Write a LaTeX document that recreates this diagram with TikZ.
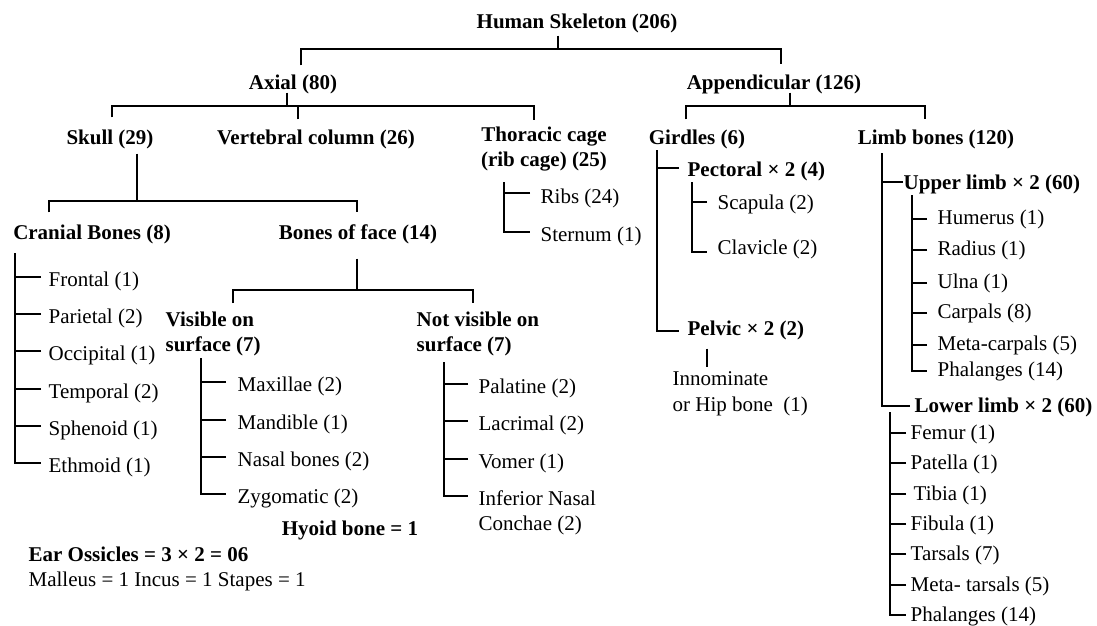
\documentclass[tikz,border=0pt]{standalone}
\usepackage{fontspec}
\setmainfont{Liberation Serif}
\begin{document}
\begin{tikzpicture}[x=1pt,y=-1pt,line width=1.3pt,
  bx/.style={font=\bfseries\fontsize{21}{25.5}\selectfont, inner sep=0pt, text height=14pt, text depth=0pt},
  bxl/.style={bx, anchor=west},
  bx2/.style={font=\bfseries\fontsize{21}{25.5}\selectfont, inner sep=0pt, align=left},
  it/.style={font=\fontsize{21}{25.5}\selectfont, inner sep=0pt, text height=14pt, text depth=0pt, anchor=west},
  it2/.style={font=\fontsize{21}{25.5}\selectfont, inner sep=0pt, align=left}]
\fill[white] (0,0) rectangle (1097,626);
\useasboundingbox (0,0) rectangle (1097,626);

% ---------- headings ----------
\node[bx] (title) at (577,22) {Human Skeleton (206)};
\node[bx] (axial) at (293,82) {Axial (80)};
\node[bx] (app) at (774,82) {Appendicular (126)};
\node[bx] (skull) at (110,137) {Skull (29)};
\node[bx] (vert) at (316,137) {Vertebral column (26)};
\node[bx2, align=center, anchor=north] (thor) at (544,126) {Thoracic cage\\(rib cage) (25)};
\node[bx] (gird) at (697,137) {Girdles (6)};
\node[bx] (limb) at (936,137) {Limb bones (120)};
\node[bx] (cran) at (92,232) {Cranial Bones (8)};
\node[bx] (face) at (358,232) {Bones of face (14)};
\node[bx2, anchor=north west] (vis) at (165,311) {Visible on\\surface (7)};
\node[bx2, anchor=north west] (notvis) at (416,311) {Not visible on\\surface (7)};
\node[bxl] (pect) at (687,169) {Pectoral × 2 (4)};
\node[bxl] (pelv) at (687,328) {Pelvic × 2 (2)};
\node[bxl] (upper) at (903,182) {Upper limb × 2 (60)};
\node[bxl] (lower) at (914,405) {Lower limb × 2 (60)};
\node[bx] (hyoid) at (350,528) {Hyoid bone = 1};
\node[bxl] (ear) at (28,554) {Ear Ossicles = 3 × 2 = 06};
\node[it] (mall) at (28,579) {Malleus = 1 Incus = 1 Stapes = 1};
\node[it2, anchor=north west] (innom) at (672,371) {Innominate\\or Hip bone\ \ (1)};

% ---------- list items ----------
\node[it] (frontal) at (48,279) {Frontal (1)};
\node[it] (parietal) at (48,316) {Parietal (2)};
\node[it] (occipital) at (48,353) {Occipital (1)};
\node[it] (temporal) at (48,391) {Temporal (2)};
\node[it] (sphenoid) at (48,428) {Sphenoid (1)};
\node[it] (ethmoid) at (48,465) {Ethmoid (1)};

\node[it] (maxillae) at (237,384) {Maxillae (2)};
\node[it] (mandible) at (237,422) {Mandible (1)};
\node[it] (nasal) at (237,459) {Nasal bones (2)};
\node[it] (zygo) at (237,496) {Zygomatic (2)};

\node[it] (palatine) at (478,386) {Palatine (2)};
\node[it] (lacrimal) at (478,423) {Lacrimal (2)};
\node[it] (vomer) at (478,461) {Vomer (1)};
\node[it] (inferior) at (478,498) {Inferior Nasal};
\node[it] (conchae) at (478,523) {Conchae (2)};

\node[it] (ribs) at (540,196) {Ribs (24)};
\node[it] (sternum) at (540,234) {Sternum (1)};

\node[it] (scapula) at (717,202) {Scapula (2)};
\node[it] (clavicle) at (717,247) {Clavicle (2)};

\node[it] (humerus) at (937,217) {Humerus (1)};
\node[it] (radius) at (937,248) {Radius (1)};
\node[it] (ulna) at (937,281) {Ulna (1)};
\node[it] (carpals) at (937,311) {Carpals (8)};
\node[it] (metacarpals) at (937,343) {Meta-carpals (5)};
\node[it] (phal1) at (937,369) {Phalanges (14)};

\node[it] (femur) at (910,432) {Femur (1)};
\node[it] (patella) at (910,462) {Patella (1)};
\node[it] (tibia) at (913,493) {Tibia (1)};
\node[it] (fibula) at (910,523) {Fibula (1)};
\node[it] (tarsals) at (910,553) {Tarsals (7)};
\node[it] (metatarsals) at (910,584) {Meta- tarsals (5)};
\node[it] (phal2) at (910,614) {Phalanges (14)};

% ---------- brackets ----------
\coordinate (b0) at (558,49);
\draw ([xshift=-19pt,yshift=-6pt]title.south) -- (b0);
\draw ([xshift=8pt,yshift=9pt]axial.north) |- (b0) -| ([xshift=7pt,yshift=10pt]app.north);

\coordinate (b1) at (287,106);
\draw ([xshift=-6pt,yshift=-3pt]axial.south) -- (b1);
\draw ([xshift=2pt,yshift=12pt]skull.north) |- (b1) -| ([xshift=-10pt,yshift=6pt]thor.north);
\draw ([xshift=-18pt,yshift=10pt]vert.north) -- ++(0,-14);

\coordinate (b2) at (790,106);
\draw ([xshift=16pt,yshift=-3pt]app.south) -- (b2);
\draw ([xshift=-11pt,yshift=10pt]gird.north) |- (b2) -| ([xshift=-11pt,yshift=10pt]limb.north);

\coordinate (b3) at (137,201);
\draw ([xshift=27pt,yshift=-9pt]skull.south) -- (b3);
\draw ([xshift=-43pt,yshift=12pt]cran.north) |- (b3) -| ([xshift=-1pt,yshift=12pt]face.north);

\coordinate (b4) at (357,290);
\draw ([xshift=-1pt,yshift=-19pt]face.south) -- (b4);
\draw ([xshift=68pt,yshift=8pt]vis.north west) |- (b4) -| ([xshift=57pt,yshift=8pt]notvis.north west);

% ---------- lists ----------
% cranial
\coordinate (c0) at (15,253);
\draw (c0) |- ([xshift=-7pt,yshift=2pt]ethmoid.west);
\foreach \n in {frontal,parietal,occipital,temporal,sphenoid}
  \draw ([xshift=-7pt,yshift=2pt]\n.west) -- ++(-26,0);

% visible
\coordinate (c1) at (201,358);
\draw (c1) |- ([xshift=-11pt,yshift=2pt]zygo.west);
\foreach \n in {maxillae,mandible,nasal}
  \draw ([xshift=-11pt,yshift=2pt]\n.west) -- ++(-25,0);

% not visible
\coordinate (c2) at (444,362);
\draw (c2) |- ([xshift=-10pt,yshift=2pt]inferior.west);
\foreach \n in {palatine,lacrimal,vomer}
  \draw ([xshift=-10pt,yshift=2pt]\n.west) -- ++(-24,0);

% thoracic
\coordinate (c3) at (504,182);
\draw (c3) |- ([xshift=-10pt,yshift=2pt]sternum.west);
\draw ([xshift=-10pt,yshift=3pt]ribs.west) -- ++(-26,0);

% girdles
\coordinate (c4) at (657,150);
\draw (c4) |- ([xshift=-8pt,yshift=-3pt]pelv.west);
\draw ([xshift=-8pt,yshift=1pt]pect.west) -- ++(-22,0);
\coordinate (c5) at (692,182);
\draw (c5) |- ([xshift=-10pt,yshift=-5pt]clavicle.west);
\draw ([xshift=-10pt]scapula.west) -- ++(-15,0);
\draw ([xshift=20pt,yshift=-13pt]pelv.south west) -- ([xshift=35pt,yshift=4pt]innom.north west);

% limb bones
\coordinate (c6) at (882,153);
\draw (c6) |- ([xshift=-4pt,yshift=-1pt]lower.west);
\draw (upper.west) -- ++(-21,0);
\coordinate (c7) at (912,195);
\draw (c7) |- ([xshift=-10pt,yshift=-2pt]phal1.west);
\foreach \n in {humerus,radius,ulna,carpals,metacarpals}
  \draw ([xshift=-10pt,yshift=-2pt]\n.west) -- ++(-15,0);
\coordinate (c8) at (890,412);
\draw (c8) |- ([xshift=-4pt,yshift=-1pt]phal2.west);
\foreach \n in {femur,patella,fibula,tarsals,metatarsals}
  \draw ([xshift=-4pt,yshift=-1pt]\n.west) -- ++(-16,0);
\draw ([xshift=-7pt,yshift=-1pt]tibia.west) -- ++(-16,0);
\end{tikzpicture}
\end{document}
